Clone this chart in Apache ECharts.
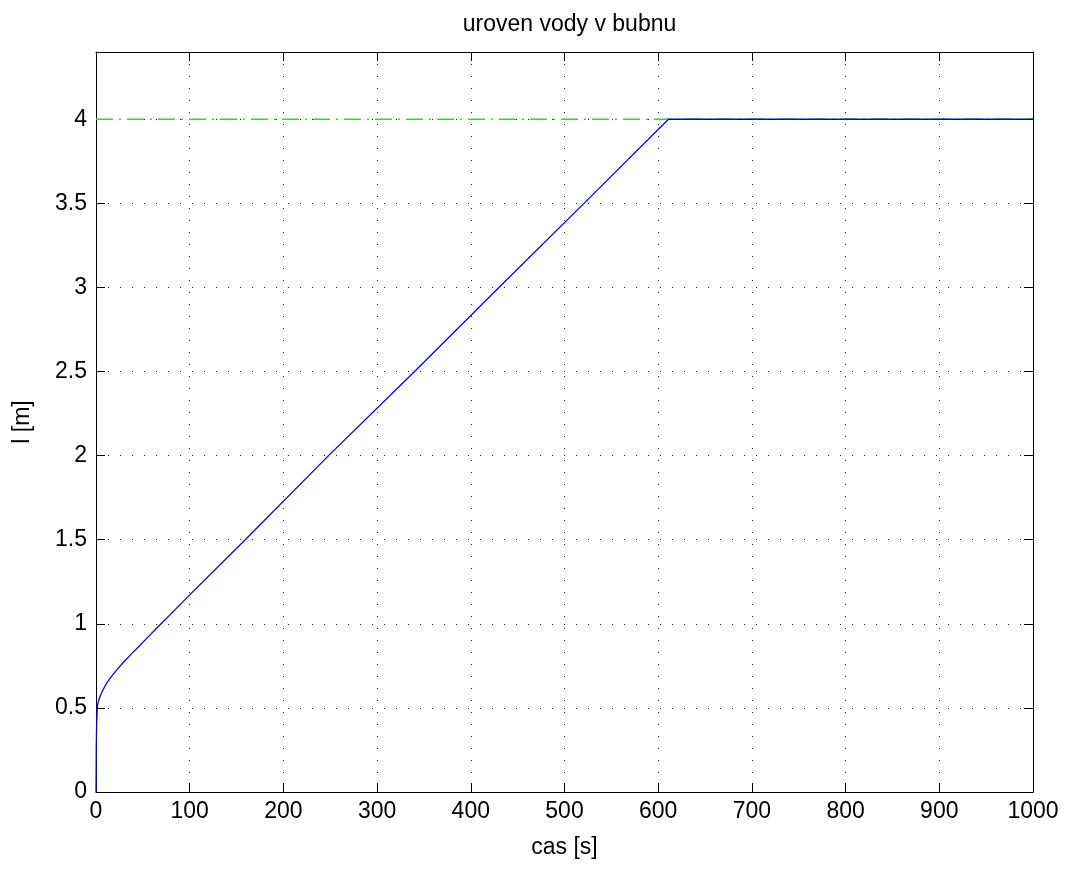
<!DOCTYPE html>
<html>
<head>
<meta charset="utf-8">
<title>uroven vody v bubnu</title>
<script src="https://cdn.jsdelivr.net/npm/echarts@6/dist/echarts.min.js"></script>
<style>
  html, body { margin: 0; padding: 0; background: #fff; }
  #chart { width: 1072px; height: 869px; }
</style>
</head>
<body>
<div id="chart"></div>
<script>
// Drum water level over time
const timeS = [0, 0.3, 0.7, 1.2, 1.8, 3, 4.6, 7.5, 11.7, 15.3, 22.4, 30, 38.4, 46, 54.4, 66.8, 80, 100, 159.3, 248.2, 340, 430, 520.8, 611, 1000];
const levelM = [0, 0.28, 0.41, 0.48, 0.52, 0.548, 0.572, 0.608, 0.65, 0.679, 0.728, 0.776, 0.824, 0.867, 0.915, 0.986, 1.059, 1.172, 1.5, 2.0, 2.5, 3.0, 3.5, 4.0, 4.0];
// Setpoint level
const setpointT = [0, 1000];
const setpointM = [4, 4];

const xTicks = { min: 0, max: 1000, interval: 100 };
const yTicks = { min: 0, max: 4.4, interval: 0.5 };

const FONT = "'Liberation Sans', Arial, Helvetica, sans-serif";
const FS = 23;

const GRID = { left: 96, right: 39, top: 52, bottom: 77 };
const plotCenterX = GRID.left + (1072 - GRID.left - GRID.right) / 2;

const levelData = timeS.map((t, i) => [t, levelM[i]]);
const setpointData = setpointT.map((t, i) => [t, setpointM[i]]);

const axisLineStyle = { show: true, onZero: false, lineStyle: { color: '#000', width: 1 } };
const tickStyle = { show: true, inside: true, length: 9, lineStyle: { color: '#000', width: 1 } };
const gridDots = { show: true, lineStyle: { color: '#222', width: 1, type: [1, 11] } };

const chart = echarts.init(document.getElementById('chart'), null, { renderer: 'canvas' });

chart.setOption({
  backgroundColor: '#fff',
  animation: false,
  title: {
    text: 'uroven vody v bubnu',
    left: plotCenterX,
    textAlign: 'center',
    top: 8,
    textStyle: { fontFamily: FONT, fontSize: 23, fontWeight: 'normal', color: '#000' }
  },
  grid: { ...GRID, outerBoundsMode: 'none', containLabel: false },
  xAxis: [
    {
      type: 'value', position: 'bottom', ...xTicks,
      name: 'cas [s]', nameLocation: 'middle', nameGap: 44,
      nameTextStyle: { fontFamily: FONT, fontSize: FS, color: '#000' },
      axisLine: axisLineStyle, axisTick: tickStyle,
      axisLabel: { fontFamily: FONT, fontSize: FS, color: '#000', margin: 8, formatter: v => String(v) },
      splitLine: gridDots
    },
    {
      type: 'value', position: 'top', ...xTicks,
      axisLine: axisLineStyle, axisTick: tickStyle,
      axisLabel: { show: false }, splitLine: { show: false }
    }
  ],
  yAxis: [
    {
      type: 'value', position: 'left', ...yTicks,
      name: 'l [m]', nameLocation: 'middle', nameGap: 62, nameRotate: 90,
      nameTextStyle: { fontFamily: FONT, fontSize: FS, color: '#000' },
      axisLine: axisLineStyle, axisTick: tickStyle,
      axisLabel: {
        fontFamily: FONT, fontSize: FS, color: '#000', margin: 9,
        showMaxLabel: false,
        formatter: v => (Math.abs(v - yTicks.max) < 1e-9 ? '' : String(v))
      },
      splitLine: gridDots
    },
    {
      type: 'value', position: 'right', ...yTicks,
      axisLine: axisLineStyle, axisTick: tickStyle,
      axisLabel: { show: false }, splitLine: { show: false }
    }
  ],
  series: [
    {
      name: 'setpoint', type: 'line', data: setpointData,
      showSymbol: false, silent: true, z: 2,
      lineStyle: { color: '#11ee11', width: 1.5, type: [17, 6, 2, 6] }
    },
    {
      name: 'level', type: 'line', data: levelData,
      showSymbol: false, silent: true, z: 3, smooth: false,
      lineStyle: { color: '#0000ff', width: 1.3 }
    }
  ]
});
</script>
</body>
</html>
